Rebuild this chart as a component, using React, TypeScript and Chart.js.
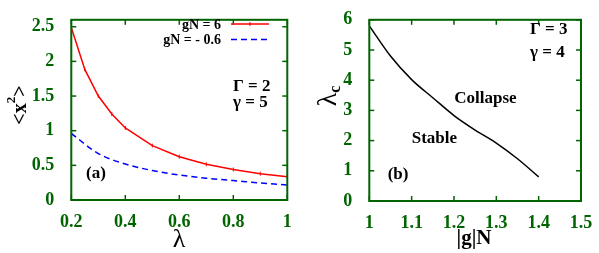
import React, { useEffect, useRef } from 'react';
import { Chart, registerables } from 'chart.js';

Chart.register(...registerables);

// ---- Panel (a) data ----
const lambdaRed = [0.2, 0.25, 0.3, 0.35, 0.4, 0.5, 0.6, 0.7, 0.8, 0.9, 1.0];
const x2Red = [2.49, 1.885, 1.5, 1.24, 1.04, 0.785, 0.625, 0.515, 0.44, 0.38, 0.335];
const lambdaBlue = [0.2, 0.3, 0.4, 0.5, 0.6, 0.7, 0.8, 0.9, 1.0];
const x2Blue = [0.96, 0.67, 0.52, 0.425, 0.36, 0.315, 0.28, 0.245, 0.215];
const legendA = ['gN = 6', 'gN = - 0.6'];

// ---- Panel (b) data ----
const gNAbs = [1.0, 1.05, 1.1, 1.15, 1.2, 1.25, 1.3, 1.35, 1.4];
const lambdaC = [5.8, 4.8, 4.02, 3.42, 2.83, 2.35, 1.92, 1.4, 0.8];

const GREEN = '#006400';
const SERIF = '"Liberation Serif", "DejaVu Serif", serif';
const TICK_FONT = { family: SERIF, size: 18, weight: 'bold' as const };

const framePlugin = {
  id: 'gnuFrame',
  afterDatasetsDraw(chart: any) {
    const { ctx, chartArea: a, scales } = chart;
    ctx.save();
    ctx.strokeStyle = GREEN;
    ctx.lineWidth = 1.5;
    const L = 5;
    const seg = (x1: number, y1: number, x2: number, y2: number) => {
      ctx.beginPath();
      ctx.moveTo(x1, y1);
      ctx.lineTo(x2, y2);
      ctx.stroke();
    };
    scales.x.ticks.forEach((t: any) => {
      const px = scales.x.getPixelForValue(t.value);
      seg(px, a.bottom, px, a.bottom - L);
      seg(px, a.top, px, a.top + L);
    });
    scales.y.ticks.forEach((t: any) => {
      const py = scales.y.getPixelForValue(t.value);
      seg(a.left, py, a.left + L, py);
      seg(a.right, py, a.right - L, py);
    });
    ctx.lineWidth = 2;
    ctx.strokeRect(a.left, a.top, a.right - a.left, a.bottom - a.top);
    ctx.restore();
  },
};

function text(ctx: any, s: string, x: number, y: number, font: string, align: string = 'left', color = '#000') {
  ctx.font = font;
  ctx.fillStyle = color;
  ctx.textAlign = align;
  ctx.textBaseline = 'middle';
  ctx.fillText(s, x, y);
}

const annotA = {
  id: 'annotA',
  afterDraw(chart: any) {
    const ctx = chart.ctx;
    ctx.save();
    const lf = `bold 14px ${SERIF}`;
    text(ctx, legendA[0], 221, 25, lf, 'right');
    text(ctx, legendA[1], 221, 40.5, lf, 'right');
    ctx.strokeStyle = '#ff0000';
    ctx.lineWidth = 1.5;
    ctx.beginPath(); ctx.moveTo(231, 24); ctx.lineTo(269, 24); ctx.stroke();
    ctx.lineWidth = 1;
    ctx.beginPath(); ctx.moveTo(250, 22); ctx.lineTo(250, 26); ctx.stroke();
    ctx.strokeStyle = '#0000ff';
    ctx.lineWidth = 1.5;
    ctx.setLineDash([6, 4]);
    ctx.beginPath(); ctx.moveTo(231, 39.5); ctx.lineTo(269, 39.5); ctx.stroke();
    ctx.setLineDash([]);
    const bf = `bold 17px ${SERIF}`;
    text(ctx, 'Γ = 2', 233, 87, bf);
    text(ctx, 'γ = 5', 233, 103, bf);
    text(ctx, '(a)', 86, 174, bf);
    text(ctx, 'λ', 179, 240, `26px ${SERIF}`, 'center');
    // y title <x^2>
    ctx.translate(21, 105);
    ctx.rotate(-Math.PI / 2);
    const mf = `bold 20px ${SERIF}`;
    const sf = `bold 13px ${SERIF}`;
    ctx.font = mf; const w1 = ctx.measureText('<x').width; const w3 = ctx.measureText('>').width;
    ctx.font = sf; const w2 = ctx.measureText('2').width;
    const start = -(w1 + w2 + w3) / 2;
    text(ctx, '<x', start, 0, mf);
    text(ctx, '2', start + w1, -9, sf);
    text(ctx, '>', start + w1 + w2, 0, mf);
    ctx.restore();
  },
};

const OX = 300;
const annotB = {
  id: 'annotB',
  afterDraw(chart: any) {
    const ctx = chart.ctx;
    ctx.save();
    const bf = `bold 17px ${SERIF}`;
    text(ctx, 'Γ = 3', 530 - OX, 30, bf);
    text(ctx, 'γ = 4', 530 - OX, 52.7, bf);
    text(ctx, 'Collapse', 454.3 - OX, 98.3, bf);
    text(ctx, 'Stable', 411.7 - OX, 138.3, bf);
    text(ctx, '(b)', 387.7 - OX, 175, bf);
    text(ctx, '|g|N', 474 - OX, 239, `bold 21px ${SERIF}`, 'center');
    ctx.translate(329 - OX, 96);
    ctx.rotate(-Math.PI / 2);
    const mf = `28px ${SERIF}`;
    const sf = `bold 16px ${SERIF}`;
    ctx.font = mf; const w1 = ctx.measureText('λ').width;
    ctx.font = sf; const w2 = ctx.measureText('c').width;
    const start = -(w1 + w2) / 2;
    text(ctx, 'λ', start, 0, mf);
    text(ctx, 'c', start + w1, 7, sf);
    ctx.restore();
  },
};

function axis(min: number, max: number, step: number, fit: (s: any) => void, labelPad: number, lastTick: number) {
  return {
    type: 'linear' as const,
    min,
    max,
    bounds: 'data' as const,
    grid: { display: false },
    border: { display: false },
    ticks: {
      stepSize: step,
      autoSkip: false,
      maxRotation: 0,
      font: TICK_FONT,
      color: GREEN,
      padding: labelPad,
      callback: (v: any) => String(+(+v).toFixed(3)),
    },
    afterBuildTicks: (s: any) => {
      s.ticks = s.ticks.filter((t: any) => t.value <= lastTick + 1e-9);
    },
    afterFit: fit,
  };
}

function useChart(ref: React.RefObject<HTMLCanvasElement>, make: (c: HTMLCanvasElement) => Chart) {
  useEffect(() => {
    if (!ref.current) return;
    const ch = make(ref.current);
    return () => ch.destroy();
  }, []);
}

export default function App() {
  const refA = useRef<HTMLCanvasElement>(null);
  const refB = useRef<HTMLCanvasElement>(null);

  useChart(refA, (c) =>
    new Chart(c, {
      type: 'line',
      data: {
        datasets: [
          {
            label: legendA[0],
            data: lambdaRed.map((x, i) => ({ x, y: x2Red[i] })),
            borderColor: '#ff0000',
            backgroundColor: '#ff0000',
            borderWidth: 1.5,
            pointStyle: 'line',
            rotation: 90,
            pointRadius: 2,
            pointBorderWidth: 1,
            tension: 0,
          },
          {
            label: legendA[1],
            data: lambdaBlue.map((x, i) => ({ x, y: x2Blue[i] })),
            borderColor: '#0000ff',
            borderWidth: 1.5,
            borderDash: [6, 4],
            pointRadius: 0,
            cubicInterpolationMode: 'monotone',
          },
        ],
      },
      options: {
        responsive: false,
        animation: false,
        layout: { padding: { left: 0, top: 13.5, right: 12.7, bottom: 0 } },
        plugins: { legend: { display: false }, tooltip: { enabled: false } },
        scales: {
          x: axis(0.2, 1, 0.2, (s: any) => { s.height = 53; }, 4, 1),
          y: axis(0, 2.6, 0.5, (s: any) => { s.width = 71.3; }, 9, 2.5),
        },
      },
      plugins: [framePlugin, annotA],
    } as any)
  );

  useChart(refB, (c) =>
    new Chart(c, {
      type: 'line',
      data: {
        datasets: [
          {
            label: 'λc',
            data: gNAbs.map((x, i) => ({ x, y: lambdaC[i] })),
            borderColor: '#000000',
            borderWidth: 1.5,
            pointRadius: 0,
            cubicInterpolationMode: 'monotone',
          },
        ],
      },
      options: {
        responsive: false,
        animation: false,
        layout: { padding: { left: 0, top: 13.3, right: 18, bottom: 0 } },
        plugins: { legend: { display: false }, tooltip: { enabled: false } },
        scales: {
          x: axis(1, 1.5, 0.1, (s: any) => { s.height = 52; }, 4, 1.5),
          y: axis(0, 6, 1, (s: any) => { s.width = 69.3; }, 9, 6),
        },
      },
      plugins: [framePlugin, annotB],
    } as any)
  );

  return (
    <div style={{ position: 'absolute', left: 0, top: 0, width: 599, height: 253, background: '#fff' }}>
      <canvas ref={refA} width={300} height={253} style={{ position: 'absolute', left: 0, top: 0, display: 'block' }} />
      <canvas ref={refB} width={299} height={253} style={{ position: 'absolute', left: 300, top: 0, display: 'block' }} />
    </div>
  );
}
